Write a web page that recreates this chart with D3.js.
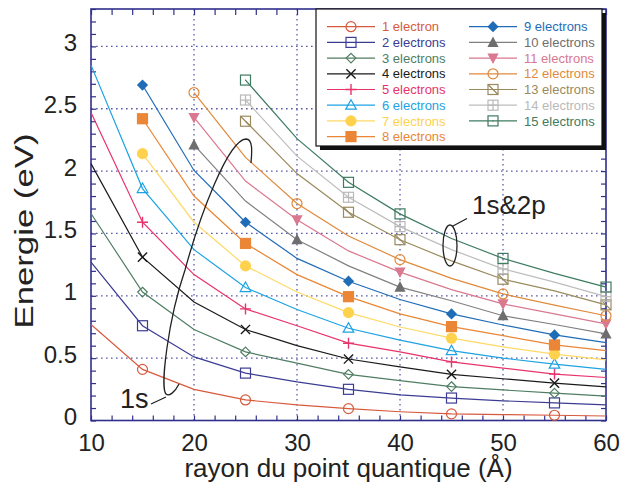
<!DOCTYPE html>
<html><head><meta charset="utf-8">
<script src="https://cdn.jsdelivr.net/npm/d3@7"></script>
<style>body{margin:0;background:#fff}svg{display:block;font-family:"Liberation Sans",Arial,sans-serif}</style>
</head><body><svg id="c" width="621" height="489"></svg>
<script>
// ---- data ----
const radii = [10,15,20,25,30,35,40,45,50,55,60];
const e1  = [0.77,0.41,0.25,0.165,0.125,0.095,0.07,0.053,0.047,0.042,0.036];
const e2  = [1.27,0.76,0.51,0.38,0.31,0.25,0.205,0.18,0.158,0.141,0.125];
const e3  = [1.66,1.03,0.73,0.55,0.46,0.37,0.32,0.272,0.245,0.219,0.195];
const e4  = [2.06,1.31,0.95,0.73,0.60,0.493,0.43,0.37,0.335,0.299,0.27];
const e5  = [2.47,1.59,1.17,0.895,0.76,0.62,0.55,0.47,0.42,0.372,0.345];
const e6  = [2.85,1.86,1.37,1.066,0.89,0.74,0.645,0.56,0.50,0.452,0.41];
const e7  = [null,2.14,1.59,1.24,1.03,0.865,0.75,0.66,0.59,0.532,0.486];
const e8  = [null,2.42,1.80,1.42,1.17,0.993,0.855,0.753,0.68,0.606,0.56];
const e9  = [null,2.69,2.005,1.59,1.30,1.117,0.97,0.855,0.766,0.686,0.624];
const e10 = [null,null,2.21,1.76,1.45,1.24,1.07,0.96,0.84,0.77,0.694];
const e11 = [null,null,2.43,1.92,1.61,1.36,1.19,1.05,0.935,0.855,0.775];
const e12 = [null,null,2.63,2.11,1.74,1.48,1.29,1.14,1.015,0.925,0.84];
const e13 = [null,null,null,2.40,1.98,1.67,1.45,1.28,1.133,1.04,0.927];
const e14 = [null,null,null,2.57,2.12,1.79,1.555,1.37,1.216,1.11,0.994];
const e15 = [null,null,null,2.73,2.26,1.91,1.657,1.46,1.30,1.18,1.07];
const seriesValues = [e1,e2,e3,e4,e5,e6,e7,e8,e9,e10,e11,e12,e13,e14,e15];
const seriesNames = ["1 electron","2 electrons","3 electrons","4 electrons","5 electrons","6 electrons","7 electrons","8 electrons","9 electrons","10 electrons","11 electrons","12 electrons","13 electrons","14 electrons","15 electrons"];
const markerRadiiA = [15,25,35,45,55];
const markerRadiiB = [20,30,40,50,60];
const markerRadiiC = [25,35,40,50,60];
const xTicks = [10,20,30,40,50,60];
const yTicks = [0,0.5,1,1.5,2,2.5,3];
const xLabel = "rayon du point quantique (Å)";
const yLabel = "Energie (eV)";

// ---- styles ----
const colors = ["#d85a3d","#3c3c95","#4f7d63","#1a1a1a","#e8336b","#1da2e3","#ffd24e","#ea8635","#1f6cb7","#6e6e6e","#d9788f","#e08a3c","#9a8a5e","#b9b9b9","#3e7b60"];
const lineColors = ["#d85a3d","#3c3c95","#4f7d63","#1a1a1a","#e8336b","#1da2e3","#ffd966","#ea8635","#1f6cb7","#808080","#d9788f","#e08a3c","#9a8a5e","#bdbdbd","#3e7b60"];
const types = ["circleOpen","squareOpen","diamondOpen","x","plus","triOpen","circleFill","squareFill","diamondFill","triUpFill","triDownFill","circleOpen","squareDiag","squareCross","squareDot"];
const markerSets = [0,0,0,0,0,0,0,0,0,1,1,1,2,2,2].map(k=>[markerRadiiA,markerRadiiB,markerRadiiC][k]);

const svg = d3.select("#c");
const L=91,R=606,T=9,B=420.5;
const x = d3.scaleLinear().domain([10,60]).range([L,R]);
const y = d3.scaleLinear().domain([0,3.3]).range([B,T]);
const axisCol = "#30308c", gridCol = "#5a5aa8";

// grid
const grid = svg.append("g");
xTicks.filter(v=>v>10&&v<60).forEach(v=>{
  grid.append("line").attr("x1",x(v)).attr("x2",x(v)).attr("y1",T).attr("y2",B)
    .attr("stroke",gridCol).attr("stroke-width",1.3).attr("stroke-dasharray","1.6,3.4");
});
yTicks.filter(v=>v>0).forEach(v=>{
  grid.append("line").attr("x1",L).attr("x2",R).attr("y1",y(v)).attr("y2",y(v))
    .attr("stroke",gridCol).attr("stroke-width",1.3).attr("stroke-dasharray","1.6,3.4");
});

// axes (inward ticks on all four sides)
const xMinor = d3.range(10,60.01,2), yMinor = d3.range(0,3.31,0.1);
function styleAxis(g){g.select(".domain").remove();g.selectAll("line").attr("stroke",axisCol).attr("stroke-width",1.2);}
svg.append("g").attr("transform",`translate(0,${B})`).call(d3.axisBottom(x).tickValues(xMinor).tickSize(-5).tickFormat("")).call(styleAxis);
svg.append("g").attr("transform",`translate(0,${T})`).call(d3.axisTop(x).tickValues(xMinor).tickSize(-6).tickFormat("")).call(styleAxis);
svg.append("g").attr("transform",`translate(${L},0)`).call(d3.axisLeft(y).tickValues(yMinor).tickSize(-5).tickFormat("")).call(styleAxis);
svg.append("g").attr("transform",`translate(${R},0)`).call(d3.axisRight(y).tickValues(yMinor).tickSize(-5).tickFormat("")).call(styleAxis);
svg.append("rect").attr("x",L).attr("y",T).attr("width",R-L).attr("height",B-T).attr("fill","none").attr("stroke",axisCol).attr("stroke-width",1.6);

// tick labels
const xl = svg.append("g").attr("transform",`translate(0,${B})`).call(d3.axisBottom(x).tickValues(xTicks).tickSize(0).tickPadding(0).tickFormat(d3.format("d")));
xl.select(".domain").remove();
xl.selectAll("text").attr("y",30).attr("dy",null).attr("font-size",24).attr("fill","#222").attr("font-family","Liberation Sans, Arial, sans-serif");
const yl = svg.append("g").attr("transform",`translate(${L},0)`).call(d3.axisLeft(y).tickValues(yTicks).tickSize(0).tickPadding(14).tickFormat(d=>String(d)));
yl.select(".domain").remove();
yl.selectAll("text").attr("dy","4").attr("font-size",24).attr("fill","#222").attr("font-family","Liberation Sans, Arial, sans-serif");

// axis titles
svg.append("text").attr("x",(L+R)/2).attr("y",477).attr("text-anchor","middle").attr("font-size",26).attr("fill","#222").text(xLabel);
svg.append("text").attr("transform","translate(33,231) rotate(-90)").attr("text-anchor","middle").attr("font-size",25).attr("fill","#222")
  .attr("textLength",195).attr("lengthAdjust","spacingAndGlyphs").text(yLabel);

// marker drawing
function marker(g,type,c){
  const sw=1.2;
  const open=(el)=>el.attr("fill","none").attr("stroke",c).attr("stroke-width",sw);
  switch(type){
    case "circleOpen": open(g.append("circle").attr("r",5)); break;
    case "squareOpen": open(g.append("rect").attr("x",-5).attr("y",-5).attr("width",10).attr("height",10)); break;
    case "diamondOpen": open(g.append("path").attr("d","M0,-4.8L4.8,0L0,4.8L-4.8,0Z")); break;
    case "x": open(g.append("path").attr("d","M-4.6,-4.6L4.6,4.6M-4.6,4.6L4.6,-4.6")).attr("stroke-width",1.4); break;
    case "plus": open(g.append("path").attr("d","M-5.5,0H5.5M0,-5.5V5.5")).attr("stroke-width",1.4); break;
    case "triOpen": open(g.append("path").attr("d","M0,-5.5L5.3,4L-5.3,4Z")); break;
    case "circleFill": g.append("circle").attr("r",5.6).attr("fill",c); break;
    case "squareFill": g.append("rect").attr("x",-5.6).attr("y",-5.6).attr("width",11.2).attr("height",11.2).attr("fill",c); break;
    case "diamondFill": g.append("path").attr("d","M0,-5.6L5.6,0L0,5.6L-5.6,0Z").attr("fill",c); break;
    case "triUpFill": g.append("path").attr("d","M0,-6L5.6,4.6L-5.6,4.6Z").attr("fill",c); break;
    case "triDownFill": g.append("path").attr("d","M0,6L5.6,-4.6L-5.6,-4.6Z").attr("fill",c); break;
    case "squareDiag": open(g.append("rect").attr("x",-5).attr("y",-5).attr("width",10).attr("height",10)); open(g.append("path").attr("d","M-5,-5L5,5")); break;
    case "squareCross": open(g.append("rect").attr("x",-5).attr("y",-5).attr("width",10).attr("height",10)); open(g.append("path").attr("d","M0,-5V5M-5,0H5")); break;
    case "squareDot": open(g.append("rect").attr("x",-5).attr("y",-5).attr("width",10).attr("height",10)); g.append("circle").attr("r",0.7).attr("fill",c); break;
  }
}

// lines and markers
const line = d3.line().defined(d=>d.v!=null).x(d=>x(d.r)).y(d=>y(d.v));
const plot = svg.append("g");
seriesValues.forEach((vals,i)=>{
  const pts = radii.map((r,j)=>({r,v:vals[j]}));
  plot.append("path").datum(pts).attr("d",line).attr("fill","none").attr("stroke",lineColors[i]).attr("stroke-width",1.2);
});
seriesValues.forEach((vals,i)=>{
  markerSets[i].forEach(r=>{
    const v = vals[radii.indexOf(r)];
    if(v==null) return;
    const g = plot.append("g").attr("transform",`translate(${x(r)},${y(v)})`);
    marker(g,types[i],colors[i]);
  });
});

// annotations
const ann = svg.append("g").attr("fill","none").attr("stroke","#222").attr("stroke-width",1.3);
ann.append("path").attr("d","M179,384 C175,392 169,397 166,394 C160,388 168,320 185,270 C200,215 228,140 246,139 C253,139 252,152 251,163");
ann.append("path").attr("d","M151,404 L166,397");
ann.append("ellipse").attr("cx",450).attr("cy",245.5).attr("rx",7).attr("ry",20.5);
ann.append("path").attr("d","M467,218.5 L452,226.5");
svg.append("text").attr("x",120).attr("y",408).attr("font-size",27).attr("fill","#222").text("1s");
svg.append("text").attr("x",472).attr("y",214).attr("font-size",26).attr("fill","#222").text("1s&2p");

// legend
const lg = svg.append("g");
lg.append("rect").attr("x",320).attr("y",13).attr("width",286).attr("height",137).attr("fill","#111");
lg.append("rect").attr("x",316).attr("y",9).attr("width",286).attr("height",137).attr("fill","#fff").attr("stroke","#111").attr("stroke-width",1.2);
seriesNames.forEach((name,i)=>{
  const col = i<8?0:1, row = i<8?i:i-8;
  const cy = 26.7 + row*15.7;
  const x0 = col===0?327:469;
  lg.append("line").attr("x1",x0).attr("x2",x0+48).attr("y1",cy).attr("y2",cy).attr("stroke",lineColors[i]).attr("stroke-width",1.2);
  marker(lg.append("g").attr("transform",`translate(${x0+24},${cy})`),types[i],colors[i]);
  lg.append("text").attr("x",x0+55).attr("y",cy+4.6).attr("font-size",13).attr("fill",colors[i]).text(name);
});
</script></body></html>
